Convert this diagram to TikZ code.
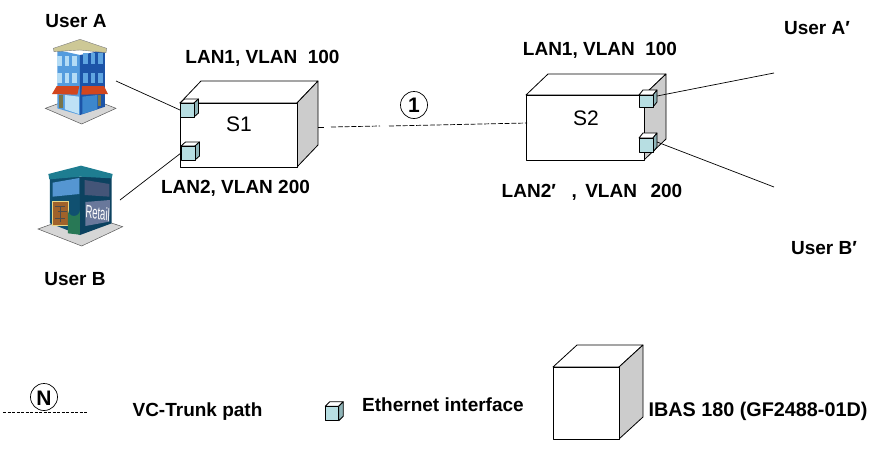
\documentclass[tikz,border=0pt]{standalone}
\usepackage{fontspec}
\usetikzlibrary{shapes.geometric}
\setmainfont{Liberation Sans}
\definecolor{ifc}{HTML}{B7DEE2}
\definecolor{ifs}{HTML}{8FB4B8}
\definecolor{side}{HTML}{CCCCCC}
\tikzset{
 lbl/.style={font=\fontsize{19}{22}\bfseries\selectfont,inner sep=0pt,text=black},
 lbls/.style={font=\fontsize{19}{22}\bfseries\selectfont,inner sep=0pt,text=black},
 boxname/.style={font=\fontsize{21}{24}\selectfont,inner sep=0pt},
 cubeface/.style={draw=black,line width=.8pt,line join=round},
 link/.style={draw=black,line width=.7pt},
 vc/.style={draw=black,line width=.7pt,dash pattern=on 5pt off 1.8pt},
 pathmark/.style={draw=black,line width=.7pt,fill=white,inner sep=0pt}
}
% name, centre of front face, width, height, depth x, depth y, front fill, side fill
\newcommand{\cubenode}[8]{%
 \path[cubeface,fill=white] (#2) ++(-#3/2,-#4/2) -- ++(#5,-#6) -- ++(#3,0) -- ++(-#5,#6) -- cycle;
 \path[cubeface,fill=#8] (#2) ++(#3/2,-#4/2) -- ++(#5,-#6) -- ++(0,#4) -- ++(-#5,#6) -- cycle;
 \node[cubeface,rectangle,fill=#7,minimum width=#3pt,minimum height=#4pt,inner sep=0pt,outer sep=0pt] (#1) at (#2) {};
}
\begin{document}
\begin{tikzpicture}[x=1pt,y=-1pt]
\useasboundingbox (0,0) rectangle (889,453);
\fill[white] (0,0) rectangle (889,453);

% Building A
\begin{scope}[scale=1/3]
 \fill[side!80!white,draw=gray!70!black,line width=.5pt] (136,325) -- (245,285) -- (348,325) -- (245,372) -- cycle;
 \fill[fill={rgb,255:red,84;green,156;blue,222}] (172,150) -- (240,165) -- (240,345) -- (172,325) -- cycle;
 \fill[fill={rgb,255:red,28;green,84;blue,168}] (240,165) -- (315,150) -- (315,320) -- (240,345) -- cycle;
 \fill[fill={rgb,255:red,190;green,225;blue,245}] (195,285) -- (237,290) -- (237,342) -- (195,328) -- cycle;
 \fill[fill={rgb,255:red,60;green,135;blue,205}] (247,290) -- (292,285) -- (292,328) -- (247,342) -- cycle;
 \fill[yellow!40!black] (178,284) rectangle (190,325);
 \fill[yellow!40!black] (294,284) rectangle (303,318);
 \foreach \x in {172,194,217} \foreach \y in {168,220}
  \fill[fill={rgb,255:red,180;green,220;blue,245}] (\x,\y) rectangle ++(14,30);
 \foreach \x in {249,272,294} \foreach \y in {160,218}
  \fill[fill={rgb,255:red,95;green,165;blue,225}] (\x,\y) rectangle ++(14,32);
 \fill[fill={rgb,255:red,210;green,70;blue,30}] (156,282) -- (170,258) -- (238,258) -- (232,284) -- cycle;
 \fill[fill={rgb,255:red,210;green,70;blue,30}] (244,284) -- (246,258) -- (312,258) -- (324,282) -- cycle;
 \fill[fill={rgb,255:red,205;green,200;blue,150},draw=gray,line width=.4pt] (160,145) -- (240,118) -- (320,145) -- (318,158) -- (240,150) -- (162,155) -- cycle;
\end{scope}

% Building B
\begin{scope}[scale=1/3]
 \fill[side!80!white,draw=gray!70!black,line width=.5pt] (114,687) -- (245,640) -- (368,680) -- (245,738) -- cycle;
 \fill[fill={rgb,255:red,16;green,80;blue,112}] (150,525) -- (240,530) -- (240,705) -- (150,670) -- cycle;
 \fill[fill={rgb,255:red,12;green,66;blue,96}] (240,530) -- (335,525) -- (335,670) -- (240,705) -- cycle;
 \fill[fill={rgb,255:red,30;green,125;blue,145}] (145,522) -- (243,497) -- (338,522) -- (335,535) -- (240,530) -- (148,538) -- cycle;
 \fill[fill={rgb,255:red,85;green,150;blue,210}] (158,548) -- (238,534) -- (238,582) -- (158,590) -- cycle;
 \fill[fill={rgb,255:red,68;green,85;blue,120}] (254,540) -- (328,552) -- (328,590) -- (254,585) -- cycle;
 \fill[fill={rgb,255:red,160;green,98;blue,42},draw={rgb,255:red,235;green,215;blue,130},line width=.8pt] (157,604) rectangle (205,675);
 \draw[black!70,line width=.6pt] (165,618) -- (195,618) (175,635) -- (200,635) (165,655) -- (195,655) (180,618) -- (180,665);
 \fill[fill={rgb,255:red,40;green,120;blue,85}] (204,700) -- (204,630) arc[start angle=180,end angle=0,radius=18] -- (240,704) -- cycle;
 \fill[fill={rgb,255:red,105;green,120;blue,155}] (256,606) -- (330,600) -- (328,665) -- (256,678) -- cycle;
 \node[inner sep=0pt,text=white,font=\fontsize{9.5}{10}\selectfont,yscale=1.9,rotate=-5] (retail) at (293,639) {Retail};
\end{scope}

% Main boxes
\cubenode{s1}{238.5,135}{117}{64}{21}{22}{white}{side}
\cubenode{s2}{585,127.5}{118}{65}{22}{21}{white}{side}
\node[boxname] (s1t) at (239,124) {S1};
\node[boxname] (s2t) at (586,118) {S2};

% Free ends
\coordinate (ua) at (116,81);
\coordinate (ub) at (120,200);
\coordinate (uap) at (774,73);
\coordinate (ubp) at (774,187);
\coordinate (m1) at (331,127);
\coordinate (m2) at (380,126);
\coordinate (m3) at (389,126);
\coordinate (s1e) at (318,127);
\coordinate (s1f) at (324,127);
\coordinate (s2w) at (527,123);

% Interfaces
\cubenode{i1}{187,110}{14}{14}{4.5}{4}{ifc}{ifs}
\cubenode{i2}{188,153}{14}{14}{4.5}{4}{ifc}{ifs}
\cubenode{i3}{646,101}{14}{12}{4}{5}{ifc}{ifs}
\cubenode{i4}{646,145}{14}{14}{4}{5}{ifc}{ifs}

\draw[link] (ua) -- (i1.west);
\draw[link] (ub) -- (i2.west);
\draw[link] (i3.east) ++(4,-5) -- (uap);
\draw[link] (i4.east) ++(4,-3) -- (ubp);
\draw[link] (s1e) -- (s1f);
\draw[vc] (m1) -- (m2);
\draw[vc] (m3) -- (s2w);

% Labels
\node[lbl] (tua) at (76,21) {User A};
\node[lbl] (tub) at (75,279) {User B};
\node[lbl] (tl1) at (262.5,58) {LAN1, VLAN\ \ 100};
\node[lbl] (tl2) at (235.5,188) {LAN2, VLAN 200};
\node[lbl] (tl3) at (600,50) {LAN1, VLAN\ \ 100};
\node[lbl] (tl4) at (592,192) {LAN2′\ \ \ , \hspace{3pt}VLAN\ \ \hspace{3pt}200};
\node[lbl] (tuap) at (817,28) {User A′};
\node[lbl] (tubp) at (824,248) {User B′};

\node[pathmark,circle,minimum size=27pt,font=\fontsize{21}{21}\bfseries\selectfont] (c1) at (414,105) {1};

% Legend
\coordinate (l1) at (3,412);
\coordinate (l2) at (88,412);
\draw[vc,dash pattern=on 3pt off 1.5pt] (l1) -- (l2);
\node[pathmark,ellipse,fill=none,minimum width=27pt,minimum height=27pt] (cn) at (44,397) {};
\node[inner sep=0pt,font=\fontsize{21}{21}\bfseries\selectfont] (cnt) at (44,398) {N};
\node[lbls] (tvc) at (197.5,412) {VC-Trunk path};
\cubenode{i5}{332,413.5}{13.5}{14.5}{4.5}{4.5}{ifc}{ifs}
\node[lbls] (teth) at (443,405) {Ethernet interface};
\cubenode{ib}{586,403}{66}{72}{24}{22}{white}{side}
\node[lbls,font=\fontsize{19.8}{22}\bfseries\selectfont] (tib) at (758,411) {IBAS 180 (GF2488-01D)};
\end{tikzpicture}
\end{document}
